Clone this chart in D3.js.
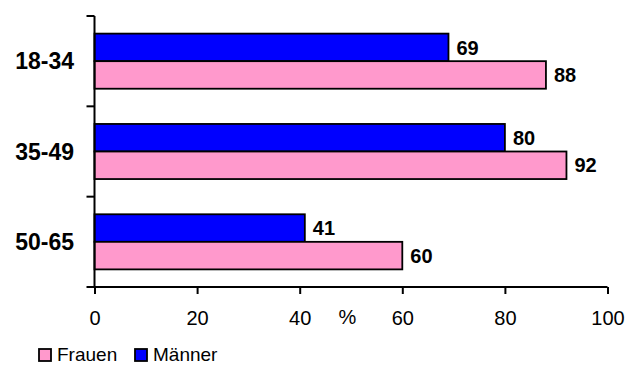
<!DOCTYPE html>
<html>
<head>
<meta charset="utf-8">
<script src="https://cdn.jsdelivr.net/npm/d3@7"></script>
<style>
  html, body { margin: 0; padding: 0; background: #fff; }
  svg { display: block; font-family: "Liberation Sans", Arial, sans-serif; }
</style>
</head>
<body>
<svg id="chart" width="627" height="365"></svg>
<script>
// Age groups and shares (%) per gender
const categories = ["18-34", "35-49", "50-65"];
const maenner = [69, 80, 41];
const frauen = [88, 92, 60];
const xTicks = [0, 20, 40, 60, 80, 100];
const seriesNames = ["Frauen", "Männer"];
const seriesColors = ["#ff99cc", "#0000ff"];

const svg = d3.select("#chart");
const margin = { left: 94.5, right: 19.5, top: 16, bottom: 78 };
const W = 627, H = 365;

const x = d3.scaleLinear().domain([0, 100]).range([margin.left, W - margin.right]);
const y = d3.scaleBand().domain(categories).range([margin.top, H - margin.bottom])
  .paddingInner(0.39).paddingOuter(0.195);

const rows = categories.map((c, i) => ({ cat: c, values: [
  { key: "Männer", v: maenner[i], color: seriesColors[1], slot: 0 },
  { key: "Frauen", v: frauen[i], color: seriesColors[0], slot: 1 }
]}));

const barH = y.bandwidth() / 2;

const g = svg.append("g");
const bars = g.selectAll("g.row").data(rows).join("g").attr("class", "row");
bars.selectAll("rect").data(d => d.values.map(v => ({ ...v, cat: d.cat })))
  .join("rect")
  .attr("x", x(0))
  .attr("y", d => y(d.cat) + d.slot * barH)
  .attr("width", d => x(d.v) - x(0))
  .attr("height", barH)
  .attr("fill", d => d.color)
  .attr("stroke", "#000")
  .attr("stroke-width", 1.8);

bars.selectAll("text").data(d => d.values.map(v => ({ ...v, cat: d.cat })))
  .join("text")
  .attr("x", d => x(d.v) + 8)
  .attr("y", d => y(d.cat) + d.slot * barH + barH / 2)
  .attr("dy", "0.36em")
  .attr("font-size", 20)
  .attr("font-weight", "bold")
  .attr("fill", "#000")
  .text(d => d.v);

// Category axis with ticks at band boundaries
const yAxisG = svg.append("g");
yAxisG.append("line")
  .attr("x1", x(0)).attr("x2", x(0))
  .attr("y1", margin.top).attr("y2", H - margin.bottom)
  .attr("stroke", "#000").attr("stroke-width", 2);
const bounds = categories.map(c => y(c) - y.step() * y.paddingInner() / 2)
  .concat([H - margin.bottom]);
yAxisG.selectAll("line.tick").data(bounds).join("line").attr("class", "tick")
  .attr("x1", x(0) - 8).attr("x2", x(0))
  .attr("y1", d => d).attr("y2", d => d)
  .attr("stroke", "#000").attr("stroke-width", 2);
yAxisG.selectAll("text").data(categories).join("text")
  .attr("x", 74)
  .attr("y", d => y(d) + y.bandwidth() / 2)
  .attr("dy", "0.36em")
  .attr("text-anchor", "end")
  .attr("font-size", 23)
  .attr("font-weight", "bold")
  .text(d => d);

// Value axis
const xAxis = d3.axisBottom(x).tickValues(xTicks).tickSize(7).tickPadding(17).tickSizeOuter(0);
const xAxisG = svg.append("g").attr("transform", `translate(0,${H - margin.bottom})`).call(xAxis);
xAxisG.select(".domain").attr("stroke-width", 2).attr("d", `M${x(0)},0H${x(100)}`);
xAxisG.selectAll(".tick line").attr("stroke-width", 2);
xAxisG.selectAll(".tick text").attr("font-size", 20).attr("font-family", "Liberation Sans, Arial, sans-serif").attr("fill", "#000");

svg.append("text")
  .attr("x", x(49.3)).attr("y", H - margin.bottom + 37)
  .attr("text-anchor", "middle")
  .attr("font-size", 20)
  .text("%");

// Legend
const legend = svg.append("g").attr("transform", "translate(39,349)");
const legendX = [0, 96];
legend.selectAll("rect").data(seriesNames).join("rect")
  .attr("x", (d, i) => legendX[i]).attr("y", 0)
  .attr("width", 12).attr("height", 12)
  .attr("fill", (d, i) => seriesColors[i])
  .attr("stroke", "#000").attr("stroke-width", 1.8);
legend.selectAll("text").data(seriesNames).join("text")
  .attr("x", (d, i) => legendX[i] + 18).attr("y", 12)
  .attr("font-size", 19)
  .text(d => d);
</script>
</body>
</html>
